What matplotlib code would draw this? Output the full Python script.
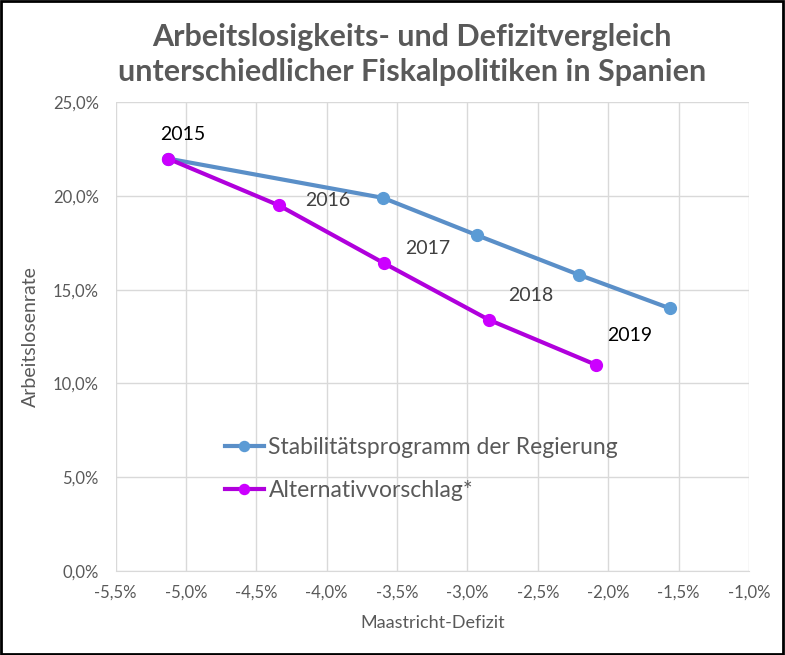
import numpy as np
import matplotlib
matplotlib.use("Agg")
import matplotlib.pyplot as plt
from matplotlib.ticker import FuncFormatter, MultipleLocator

# values (deficit in %, unemployment in %)
years = ["2015", "2016", "2017", "2018", "2019"]
stab_x = [-5.13, -3.60, -2.93, -2.21, -1.56]
stab_y = [22.0, 19.9, 17.9, 15.8, 14.0]
alt_x = [-5.13, -4.34, -3.59, -2.85, -2.09]
alt_y = [22.0, 19.5, 16.4, 13.4, 11.0]
year_colors = ["black", "#404040", "#404040", "#404040", "black"]

plt.rcParams["font.family"] = ["Lato", "DejaVu Sans"]
grey = "#595959"

fig = plt.figure(figsize=(7.85, 6.55), dpi=100)
ax = fig.add_axes([0.1473, 0.1286, 0.8068, 0.7152])

ax.plot(stab_x, stab_y, color="#5A8FC8", lw=3, marker="o", ms=8.5,
        mfc="#5B9BD5", mec="#5B9BD5", label="Stabilitätsprogramm der Regierung", zorder=3)
ax.plot(alt_x, alt_y, color="#B000DC", lw=3, marker="o", ms=8.5,
        mfc="#CC00FF", mec="#CC00FF", label="Alternativvorschlag*", zorder=3)

# year labels sit between the two series
for i, yr in enumerate(years):
    mx = (stab_x[i] + alt_x[i]) / 2
    my = (stab_y[i] + alt_y[i]) / 2
    off = (11, 17) if i == 0 else (-2, 1)
    ax.annotate(yr, (mx, my), xytext=off, textcoords="offset points",
                ha="center", va="center", fontsize=14, color=year_colors[i])

ax.set_xlim(-5.5, -1.0)
ax.set_ylim(0, 25)
ax.xaxis.set_major_locator(MultipleLocator(0.5))
ax.yaxis.set_major_locator(MultipleLocator(5))
ax.xaxis.set_major_formatter(FuncFormatter(lambda v, p: f"{v:.1f}%".replace(".", ",")))
ax.yaxis.set_major_formatter(FuncFormatter(lambda v, p: f"{v:.1f}%".replace(".", ",")))
ax.grid(True, color="#D9D9D9", lw=1)
ax.set_axisbelow(True)
for s in ["top", "right", "left"]:
    ax.spines[s].set_visible(False)
ax.spines["bottom"].set_color("#D9D9D9")
ax.tick_params(length=0, labelsize=12, labelcolor=grey)
ax.tick_params(axis="x", pad=10)
ax.tick_params(axis="y", pad=12)

ax.set_xlabel("Maastricht-Defizit", fontsize=13, color=grey, labelpad=10)
ax.set_ylabel("Arbeitslosenrate", fontsize=14, color=grey, labelpad=10)

leg = ax.legend(loc="upper left", bbox_to_anchor=(0.14, 0.33), frameon=False,
                fontsize=16.5, labelcolor=grey, handlelength=1.7, handletextpad=0.2,
                labelspacing=0.95, markerscale=0.85)

fig.text(0.525, 0.965, "Arbeitslosigkeits- und Defizitvergleich\nunterschiedlicher Fiskalpolitiken in Spanien",
         ha="center", va="top", fontsize=22, fontweight="bold", color=grey, linespacing=1.3)

# outer frame
fig.patches.append(plt.Rectangle((0.001, 0.001), 0.997, 0.997, transform=fig.transFigure,
                                 fill=False, ec="black", lw=2))

fig.savefig("out.png", dpi=100)
